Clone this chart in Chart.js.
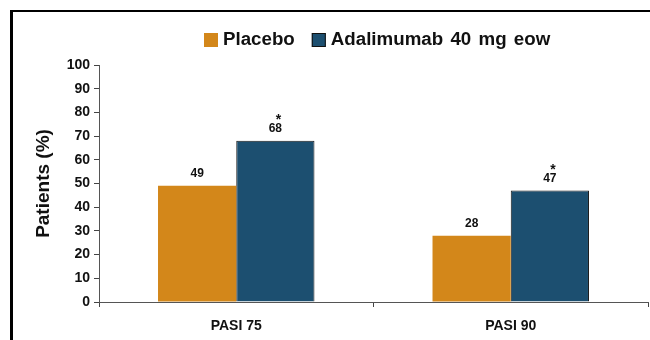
<!DOCTYPE html>
<html>
<head>
<meta charset="utf-8">
<script src="https://cdn.jsdelivr.net/npm/chart.js@4"></script>
<style>
  html, body { margin: 0; padding: 0; background: #fff; overflow: hidden; }
  #wrap { position: relative; width: 650px; height: 340px; }
  #frame { position: absolute; left: 10px; top: 10px; width: 700px; height: 400px; border-left: 3px solid #000; border-top: 2px solid #000; }
  canvas { position: absolute; left: 0; top: 0; }
</style>
</head>
<body>
<div id="wrap">
  <div id="frame"></div>
  <canvas id="c" width="650" height="340"></canvas>
</div>
<script>
const categories = ["PASI 75", "PASI 90"];
const seriesNames = ["Placebo", "Adalimumab 40 mg eow"];
const placebo = [49, 28];
const adalimumab = [68, 47];
const adalimumabSignificant = [true, true];
const yTicks = [0, 10, 20, 30, 40, 50, 60, 70, 80, 90, 100];
const yTitle = "Patients (%)";

const FONT = "'Liberation Sans', Arial, sans-serif";
const colors = ["#D3871A", "#1C4F70"];

const customPlugin = {
  id: 'custom',
  afterDatasetsDraw(chart) {
    const ctx = chart.ctx;
    ctx.save();
    // value labels
    chart.data.datasets.forEach((ds, di) => {
      const meta = chart.getDatasetMeta(di);
      meta.data.forEach((bar, i) => {
        ctx.fillStyle = '#111';
        ctx.font = 'bold 12px ' + FONT;
        ctx.textAlign = 'center';
        ctx.textBaseline = 'alphabetic';
        ctx.fillText(String(ds.data[i]), bar.x, bar.y - 9);
        if (ds.sig && ds.sig[i]) {
          ctx.font = 'bold 14px ' + FONT;
          ctx.fillText('*', bar.x + 3, bar.y - 17);
        }
      });
    });
    // legend
    ctx.font = 'bold 18px ' + FONT;
    try { ctx.wordSpacing = '2px'; } catch (e) {}
    ctx.textBaseline = 'middle';
    ctx.textAlign = 'left';
    const sx = 1.04;
    let x = 204;
    const y = 40;
    chart.data.datasets.forEach((ds, di) => {
      ctx.fillStyle = ds.backgroundColor;
      ctx.fillRect(x, y - 7, 14, 14);
      ctx.strokeStyle = '#111';
      ctx.lineWidth = 1;
      if (di === 1) ctx.strokeRect(x + 0.5, y - 6.5, 13, 13);
      ctx.fillStyle = '#111';
      const tx = x + 19;
      ctx.save();
      ctx.translate(tx, y);
      ctx.scale(sx, 1);
      ctx.fillText(ds.label, 0, 0);
      ctx.restore();
      x = tx + ctx.measureText(ds.label).width * sx + 17;
    });
    try { ctx.wordSpacing = '0px'; } catch (e) {}
    // y title
    ctx.translate(44, chart.chartArea.top + (chart.chartArea.bottom - chart.chartArea.top) / 2);
    ctx.rotate(-Math.PI / 2);
    ctx.textAlign = 'center';
    ctx.font = 'bold 19px ' + FONT;
    ctx.fillText(yTitle, 0, 0);
    ctx.restore();
  }
};

new Chart(document.getElementById('c'), {
  type: 'bar',
  data: {
    labels: categories,
    datasets: [
      { label: seriesNames[0], data: placebo, backgroundColor: colors[0], borderColor: '#C07A14', borderWidth: 0 },
      { label: seriesNames[1], data: adalimumab, sig: adalimumabSignificant, backgroundColor: colors[1], borderColor: '#1a1a1a', borderWidth: 1 }
    ]
  },
  options: {
    responsive: false,
    animation: false,
    devicePixelRatio: 1,
    categoryPercentage: 0.57,
    barPercentage: 1.0,
    layout: { padding: { top: 65, right: 2, bottom: 0, left: 0 } },
    plugins: { legend: { display: false }, tooltip: { enabled: false } },
    scales: {
      x: {
        afterFit(scale) { scale.height = 38; },
        grid: { display: true, drawOnChartArea: false, tickLength: 5, color: '#444', offset: true },
        border: { color: '#555', width: 1 },
        ticks: { color: '#111', font: { family: FONT, size: 14, weight: 'bold' }, padding: 11 }
      },
      y: {
        min: 0, max: 100,
        afterFit(scale) { scale.width = 99; },
        afterBuildTicks(scale) { scale.ticks = yTicks.map(v => ({ value: v })); },
        grid: { display: true, drawOnChartArea: false, tickLength: 5, color: '#444' },
        border: { color: '#555', width: 1 },
        ticks: { color: '#111', font: { family: FONT, size: 14, weight: 'bold' }, padding: 4 }
      }
    }
  },
  plugins: [customPlugin]
});
</script>
</body>
</html>
